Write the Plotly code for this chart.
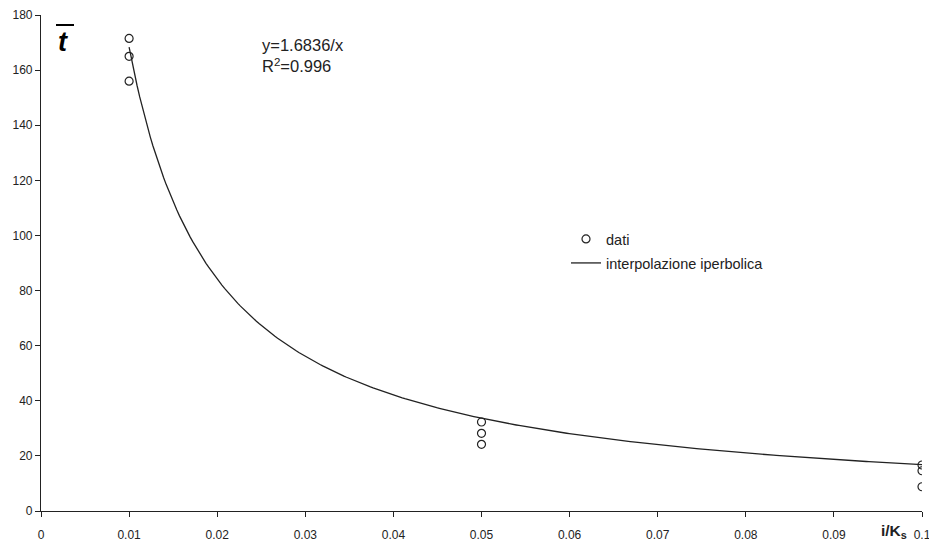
import numpy as np
import plotly.graph_objects as go

# Measured mean times for three values of i/Ks
x_dati = [0.01, 0.01, 0.01, 0.05, 0.05, 0.05, 0.1, 0.1, 0.1]
y_dati = [171.5, 165.0, 156.0, 32.3, 28.2, 24.2, 16.7, 14.6, 8.8]

# Hyperbolic fit y = a / x
coef_a = 1.6836
r_squared = 0.996
x_fit = np.linspace(0.01, 0.1, 300)
y_fit = coef_a / x_fit

FONT = "Liberation Sans, Arial, sans-serif"
INK = "#222222"

# plot area in pixels: left 41, right 922, top 15, bottom 511
W, H = 929, 544
L, R, T, B = 41, 7, 15, 33
PW, PH = W - L - R, H - T - B


def px(xp):
    return (xp - L) / PW


def py(yp):
    return (H - B - yp) / PH


fig = go.Figure()

fig.add_trace(go.Scatter(
    x=x_dati, y=y_dati, mode="markers", name="dati",
    marker=dict(symbol="circle-open", size=8, color=INK, line=dict(width=1.2, color=INK)),
    legend="legend",
))
fig.add_trace(go.Scatter(
    x=x_fit, y=y_fit, mode="lines", name="interpolazione iperbolica",
    line=dict(color=INK, width=1.3),
    legend="legend2",
))

axis_common = dict(
    showgrid=False, zeroline=False, showline=True, linecolor=INK, linewidth=1.2,
    ticks="outside", ticklen=5, tickwidth=1, tickcolor=INK,
    tickfont=dict(family=FONT, size=12, color=INK),
    automargin=False, ticklabeloverflow="allow",
)

fig.update_xaxes(range=[0, 0.1], dtick=0.01, tick0=0, ticklabelstandoff=7, **axis_common)
fig.update_yaxes(range=[0, 180], dtick=20, tick0=0, **axis_common)

fig.add_annotation(
    xref="paper", yref="paper", x=px(260), y=py(34), xanchor="left", yanchor="top",
    text=f"y={coef_a}/x<br>R<sup>2</sup>={r_squared}", showarrow=False, align="left",
    font=dict(family=FONT, size=16.5, color=INK),
)

# y-axis symbol: t with overbar
fig.add_annotation(
    xref="paper", yref="paper", x=px(63), y=py(42), xanchor="center", yanchor="middle",
    text="<b><i>t</i></b>", showarrow=False,
    font=dict(family=FONT, size=27, color="#000000"),
)
fig.add_shape(
    type="line", xref="paper", yref="paper",
    x0=px(56), x1=px(74), y0=py(25), y1=py(25),
    line=dict(color="#000000", width=2),
)

# x-axis symbol
fig.add_annotation(
    xref="paper", yref="paper", x=px(909), y=py(531), xanchor="right", yanchor="middle",
    text="<b>i/K<sub>s</sub></b>", showarrow=False,
    font=dict(family=FONT, size=15.5, color=INK),
)

legend_font = dict(family=FONT, size=14.5, color=INK)
fig.update_layout(
    width=W, height=H,
    margin=dict(l=L, r=R, t=T, b=B),
    paper_bgcolor="white", plot_bgcolor="white",
    showlegend=True,
    legend=dict(x=px(566), y=py(239), xanchor="left", yanchor="middle",
                bgcolor="rgba(0,0,0,0)", font=legend_font, borderwidth=0),
    legend2=dict(x=px(566), y=py(263), xanchor="left", yanchor="middle",
                 bgcolor="rgba(0,0,0,0)", font=legend_font, borderwidth=0),
)

fig.write_html("out.html")
